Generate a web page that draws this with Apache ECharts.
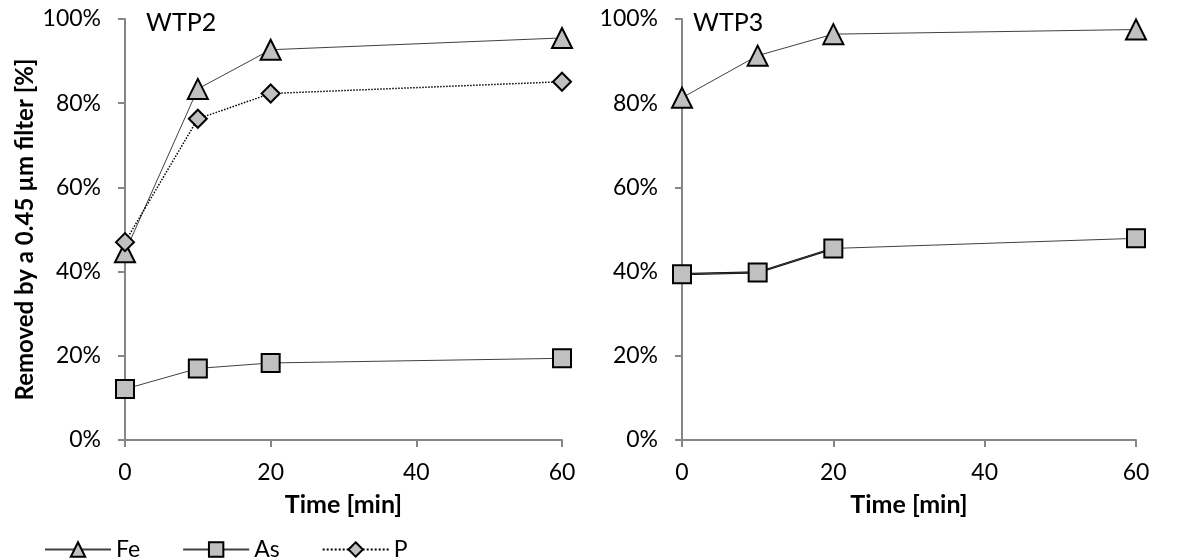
<!DOCTYPE html>
<html><head><meta charset="utf-8">
<script src="https://cdn.jsdelivr.net/npm/echarts@6/dist/echarts.min.js"></script>
<style>html,body{margin:0;padding:0;background:#fff}#c{width:1184px;height:560px}</style>
</head><body><div id="c"></div>
<script>
const time = [0, 10, 20, 60];
const xTicks = [0, 20, 40, 60];
const wtp2Fe = [44.6, 83.4, 92.7, 95.5];
const wtp2As = [12.1, 17.0, 18.3, 19.4];
const wtp2P  = [47.0, 76.3, 82.3, 85.1];
const wtp3Fe = [81.3, 91.3, 96.4, 97.5];
const wtp3As = [39.4, 39.8, 45.5, 47.9];
const panelTitles = ['WTP2', 'WTP3'];

const FONT = 'Lato';
const pair = (ys, n) => ys.slice(0, n || ys.length).map((y, i) => [time[i], y]);
const markStyle = {color: '#c0c0c0', borderColor: '#000', borderWidth: 2};
const axisLine = {show: true, lineStyle: {color: '#868686', width: 2}};
const axisTick = {show: true, inside: false, length: 7, lineStyle: {color: '#868686', width: 2}};

function xAx(idx) {
  return {type: 'value', gridIndex: idx, min: 0, max: 60, interval: 20,
    axisLine, axisTick, splitLine: {show: false},
    axisLabel: {color: '#000', fontFamily: FONT, fontSize: 23, margin: 21},
    name: 'Time [min]', nameLocation: 'middle', nameGap: 52,
    nameTextStyle: {color: '#000', fontFamily: FONT, fontSize: 25, fontWeight: 'bold'}};
}
function yAx(idx, withName) {
  const o = {type: 'value', gridIndex: idx, min: 0, max: 100, interval: 20,
    axisLine, axisTick, splitLine: {show: false},
    axisLabel: {color: '#000', fontFamily: FONT, fontSize: 23, margin: 24, formatter: '{value}%'}};
  if (withName) {
    o.name = 'Removed by a 0.45 µm filter [%]';
    o.nameLocation = 'middle'; o.nameGap = 88;
    o.nameTextStyle = {color: '#000', fontFamily: FONT, fontSize: 24, fontWeight: 'bold'};
  }
  return o;
}
function line(name, data, idx, symbol, size, lineStyle, extra) {
  return Object.assign({type: 'line', name, data, xAxisIndex: idx, yAxisIndex: idx,
    symbol, symbolSize: size, showSymbol: true, itemStyle: markStyle,
    lineStyle, z: 3, animation: false}, extra || {});
}
const thin = {color: '#404040', width: 1};

const chart = echarts.init(document.getElementById('c'));
chart.setOption({
  backgroundColor: '#fff',
  animation: false,
  grid: [
    {left: 125, right: 622, top: 19, bottom: 120},
    {left: 682, right: 48, top: 19, bottom: 120}
  ],
  xAxis: [xAx(0), xAx(1)],
  yAxis: [yAx(0, true), yAx(1, false)],
  title: [
    {text: panelTitles[0], left: 146, top: 10, padding: 0, textStyle: {fontFamily: FONT, fontSize: 25, fontWeight: 'normal', color: '#000'}},
    {text: panelTitles[1], left: 693, top: 10, padding: 0, textStyle: {fontFamily: FONT, fontSize: 25, fontWeight: 'normal', color: '#000'}}
  ],
  legend: {
    data: ['Fe', 'As', 'P'], left: 44, top: 538, padding: 0, itemWidth: 66, itemHeight: 18, itemGap: 42,
    textStyle: {fontFamily: FONT, fontSize: 23, color: '#000'}
  },
  series: [
    line('Fe', pair(wtp2Fe), 0, 'triangle', 20, thin),
    line('As', pair(wtp2As), 0, 'rect', 18, thin),
    line('P', pair(wtp2P), 0, 'diamond', 18, {color: '#000', width: 1.5, type: 'dotted'}),
    line('Fe', pair(wtp3Fe), 1, 'triangle', 20, thin),
    line('As', pair(wtp3As), 1, 'rect', 18, thin),
    line('As-thick', pair(wtp3As, 3), 1, 'none', 0, {color: '#000', width: 2.2}, {z: 2, symbol: 'none'})
  ]
});
</script></body></html>
